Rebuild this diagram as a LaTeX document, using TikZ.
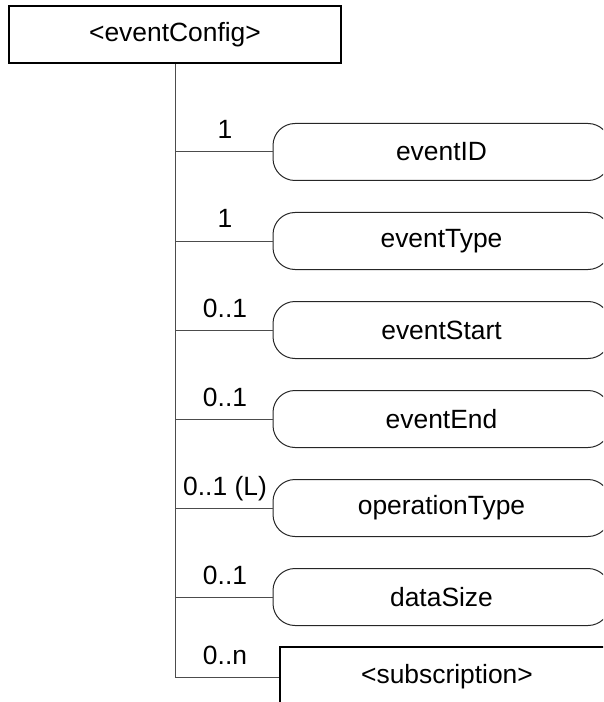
\documentclass[tikz,border=0pt]{standalone}
\usepackage{fontspec}
\setmainfont{Liberation Sans}
\usetikzlibrary{positioning}
\tikzset{
    elembox/.style={draw=black, line width=1.3pt, rectangle, font=\fontsize{19.8}{24}\selectfont},
    attrbox/.style={draw=black!85, line width=0.75pt, rectangle, rounded corners=16.5pt, minimum width=252.75pt, minimum height=42.75pt, font=\fontsize{19.8}{24}\selectfont},
    link/.style={draw=black!70, line width=0.75pt},
    cardlabel/.style={anchor=base, inner sep=0pt, font=\fontsize{19.8}{24}\selectfont},
}

\begin{document}
\begin{tikzpicture}[x=0.75pt, y=-0.75pt, node distance=23.25pt]
    \useasboundingbox (0,0) rectangle (603,702);
    \clip (0,0) rectangle (603,702);

    \node[elembox, minimum width=249pt, minimum height=42.75pt] (cfg) at (175,34.5) {<eventConfig>};

    \node[attrbox] (id) at (441.5,152) {eventID};
    \node[attrbox, below=of id] (type) {eventType};
    \node[attrbox, below=of type] (start) {eventStart};
    \node[attrbox, below=of start] (end) {eventEnd};
    \node[attrbox, below=of end] (optype) {operationType};
    \node[attrbox, below=of optype] (size) {dataSize};

    \node[elembox, minimum width=250.5pt, minimum height=45pt] (sub) at (447,677) {<subscription>};

    \draw[link] (cfg.south) -- (cfg.south |- sub.west) -- (sub.west);
    \path (cfg.south |- sub.west) ++(50,-13) node[cardlabel] (csub) {0..n};

    \foreach \n/\c in {id/1, type/1, start/0..1, end/0..1, optype/0..1 (L), size/0..1} {
        \draw[link] (cfg.south |- \n.west) -- (\n.west);
        \path (cfg.south |- \n.west) ++(50,-13) node[cardlabel] (c\n) {\c};
    }
\end{tikzpicture}
\end{document}
